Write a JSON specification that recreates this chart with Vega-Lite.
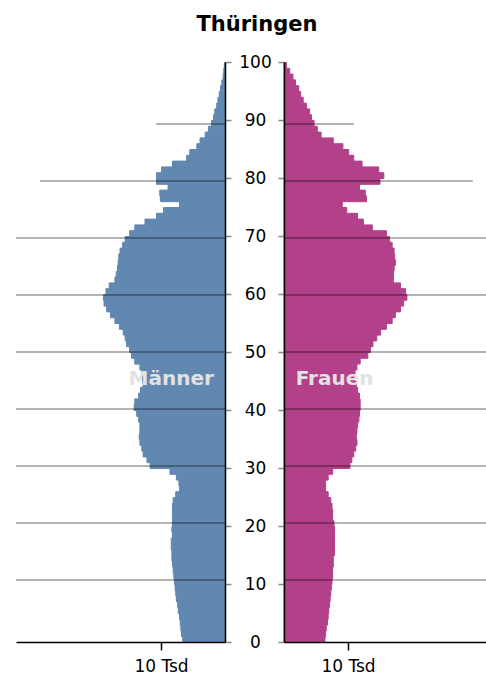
{
  "$schema": "https://vega.github.io/schema/vega-lite/v6.json",
  "background": "white",
  "autosize": {"type": "none"},
  "width": 470,
  "height": 580,
  "padding": {"left": 16, "top": 62, "right": 0, "bottom": 40},
  "title": {"text": "Thüringen", "font": "DejaVu Sans", "fontSize": 21, "fontWeight": "bold", "color": "#000", "anchor": "middle", "frame": "group", "offset": 18, "dx": 6},
  "config": {"view": {"stroke": null}, "axis": {"labelFont": "DejaVu Sans", "labelColor": "#000", "grid": false}},
  "resolve": {"scale": {"x": "independent", "y": "independent"}, "axis": {"x": "independent", "y": "independent"}},
  "datasets": {
    "pop": [
      {"age": 0, "m": 6.6, "f": 6.4}, {"age": 1, "m": 6.8, "f": 6.5}, {"age": 2, "m": 6.9, "f": 6.6}, {"age": 3, "m": 7.0, "f": 6.8}, {"age": 4, "m": 7.1, "f": 6.9},
      {"age": 5, "m": 7.3, "f": 7.0}, {"age": 6, "m": 7.4, "f": 7.1}, {"age": 7, "m": 7.6, "f": 7.2}, {"age": 8, "m": 7.7, "f": 7.3}, {"age": 9, "m": 7.8, "f": 7.4},
      {"age": 10, "m": 7.9, "f": 7.5}, {"age": 11, "m": 8.0, "f": 7.6}, {"age": 12, "m": 8.1, "f": 7.6}, {"age": 13, "m": 8.2, "f": 7.7}, {"age": 14, "m": 8.3, "f": 7.7},
      {"age": 15, "m": 8.3, "f": 7.9}, {"age": 16, "m": 8.4, "f": 7.9}, {"age": 17, "m": 8.4, "f": 7.9}, {"age": 18, "m": 8.2, "f": 7.9}, {"age": 19, "m": 8.3, "f": 7.9},
      {"age": 20, "m": 8.2, "f": 7.8}, {"age": 21, "m": 8.2, "f": 7.6}, {"age": 22, "m": 8.2, "f": 7.6}, {"age": 23, "m": 8.2, "f": 7.5}, {"age": 24, "m": 8.1, "f": 7.3},
      {"age": 25, "m": 7.7, "f": 6.9}, {"age": 26, "m": 7.1, "f": 6.5}, {"age": 27, "m": 7.2, "f": 6.5}, {"age": 28, "m": 7.6, "f": 6.9}, {"age": 29, "m": 8.6, "f": 7.6},
      {"age": 30, "m": 11.7, "f": 10.3}, {"age": 31, "m": 12.2, "f": 10.6}, {"age": 32, "m": 12.8, "f": 10.9}, {"age": 33, "m": 13.0, "f": 11.2}, {"age": 34, "m": 13.3, "f": 11.4},
      {"age": 35, "m": 13.4, "f": 11.3}, {"age": 36, "m": 13.3, "f": 11.4}, {"age": 37, "m": 13.3, "f": 11.5}, {"age": 38, "m": 13.5, "f": 11.7}, {"age": 39, "m": 13.8, "f": 11.8},
      {"age": 40, "m": 14.2, "f": 11.9}, {"age": 41, "m": 14.1, "f": 11.9}, {"age": 42, "m": 13.5, "f": 11.8}, {"age": 43, "m": 13.2, "f": 11.5}, {"age": 44, "m": 12.8, "f": 11.3},
      {"age": 45, "m": 12.9, "f": 11.1}, {"age": 46, "m": 13.0, "f": 11.1}, {"age": 47, "m": 13.3, "f": 11.4}, {"age": 48, "m": 14.1, "f": 11.9}, {"age": 49, "m": 14.6, "f": 13.1},
      {"age": 50, "m": 14.9, "f": 13.5}, {"age": 51, "m": 15.4, "f": 13.9}, {"age": 52, "m": 15.6, "f": 14.5}, {"age": 53, "m": 15.9, "f": 15.1}, {"age": 54, "m": 16.5, "f": 16.0},
      {"age": 55, "m": 17.2, "f": 16.9}, {"age": 56, "m": 17.9, "f": 17.4}, {"age": 57, "m": 18.5, "f": 18.2}, {"age": 58, "m": 18.9, "f": 18.7}, {"age": 59, "m": 19.0, "f": 19.2},
      {"age": 60, "m": 18.6, "f": 19.0}, {"age": 61, "m": 18.1, "f": 18.2}, {"age": 62, "m": 17.2, "f": 17.1}, {"age": 63, "m": 17.0, "f": 17.1}, {"age": 64, "m": 16.8, "f": 17.2},
      {"age": 65, "m": 16.7, "f": 17.4}, {"age": 66, "m": 16.6, "f": 17.3}, {"age": 67, "m": 16.4, "f": 17.2}, {"age": 68, "m": 16.0, "f": 16.9}, {"age": 69, "m": 15.6, "f": 16.5},
      {"age": 70, "m": 14.9, "f": 16.0}, {"age": 71, "m": 14.1, "f": 13.8}, {"age": 72, "m": 12.5, "f": 12.4}, {"age": 73, "m": 10.7, "f": 11.5}, {"age": 74, "m": 9.6, "f": 9.8},
      {"age": 75, "m": 7.1, "f": 9.1}, {"age": 76, "m": 10.1, "f": 12.9}, {"age": 77, "m": 10.2, "f": 12.7}, {"age": 78, "m": 8.9, "f": 11.8}, {"age": 79, "m": 10.7, "f": 15.0},
      {"age": 80, "m": 10.7, "f": 15.6}, {"age": 81, "m": 9.9, "f": 14.8}, {"age": 82, "m": 8.2, "f": 12.2}, {"age": 83, "m": 6.0, "f": 10.9}, {"age": 84, "m": 5.5, "f": 10.1},
      {"age": 85, "m": 4.4, "f": 9.2}, {"age": 86, "m": 3.9, "f": 7.7}, {"age": 87, "m": 3.1, "f": 5.8}, {"age": 88, "m": 2.6, "f": 5.2}, {"age": 89, "m": 2.1, "f": 4.7},
      {"age": 90, "m": 1.8, "f": 4.3}, {"age": 91, "m": 1.6, "f": 4.0}, {"age": 92, "m": 1.3, "f": 3.5}, {"age": 93, "m": 1.1, "f": 3.0}, {"age": 94, "m": 0.9, "f": 2.6},
      {"age": 95, "m": 0.7, "f": 2.3}, {"age": 96, "m": 0.5, "f": 1.8}, {"age": 97, "m": 0.3, "f": 1.4}, {"age": 98, "m": 0.2, "f": 0.9}, {"age": 99, "m": 0.1, "f": 0.4}
    ],
    "grid": [
      {"age": 10, "m": 40, "f": 40}, {"age": 20, "m": 40, "f": 40}, {"age": 30, "m": 40, "f": 40}, {"age": 40, "m": 40, "f": 40},
      {"age": 50, "m": 40, "f": 40}, {"age": 60, "m": 40, "f": 40}, {"age": 70, "m": 40, "f": 40},
      {"age": 80, "m": 28.9, "f": 29.5}, {"age": 90, "m": 10.8, "f": 10.9}
    ]
  },
  "layer": [
    {
      "data": {"name": "pop"},
      "mark": {"type": "bar", "color": "#6088b0", "stroke": "#6088b0", "strokeWidth": 1, "binSpacing": 0},
      "encoding": {
        "y": {"field": "age", "type": "quantitative", "bin": {"step": 1, "extent": [0, 100]},
          "scale": {"domain": [0, 100], "nice": false},
          "axis": {"title": null, "orient": "right", "offset": -261, "zindex": 1, "domain": true, "values": [0, 10, 20, 30, 40, 50, 60, 70, 80, 90, 100], "labelAlign": "center", "labelBaseline": "middle", "labelPadding": 24, "labelFontSize": 17,
            "tickSize": 6, "tickColor": "#888", "tickWidth": 1.5,
            "domainColor": "#000", "domainWidth": 1.5, "labelFlush": false, "labelOverlap": false}},
        "x": {"field": "m", "type": "quantitative", "scale": {"domain": [0, 32.66], "range": [209, 0], "nice": false, "zero": true},
          "axis": {"title": null, "orient": "bottom", "zindex": 1, "domain": true, "values": [10], "labelExpr": "'10 Tsd'", "labelFontSize": 17, "tickSize": 8, "tickColor": "#000", "tickWidth": 1.5, "labelPadding": 8, "domainColor": "#000", "domainWidth": 1.5}}
      }
    },
    {
      "data": {"name": "pop"},
      "mark": {"type": "bar", "color": "#b2418a", "stroke": "#b2418a", "strokeWidth": 1, "binSpacing": 0},
      "encoding": {
        "y": {"field": "age", "type": "quantitative", "bin": {"step": 1, "extent": [0, 100]},
          "scale": {"domain": [0, 100], "nice": false},
          "axis": {"title": null, "orient": "left", "offset": -268, "zindex": 1, "domain": true, "values": [0, 10, 20, 30, 40, 50, 60, 70, 80, 90, 100], "labels": false,
            "tickSize": 6, "tickColor": "#888", "tickWidth": 1.5,
            "domainColor": "#000", "domainWidth": 1.5}},
        "x": {"field": "f", "type": "quantitative", "scale": {"domain": [0, 31.56], "range": [268, 470], "nice": false, "zero": true},
          "axis": {"title": null, "orient": "bottom", "zindex": 1, "domain": true, "values": [10], "labelExpr": "'10 Tsd'", "labelFontSize": 17, "tickSize": 8, "tickColor": "#000", "tickWidth": 1.5, "labelPadding": 8, "domainColor": "#000", "domainWidth": 1.5}}
      }
    },
    {
      "data": {"name": "grid"},
      "mark": {"type": "bar", "orient": "horizontal", "color": "#000", "opacity": 0.4, "height": 1.5, "clip": true},
      "encoding": {
        "y": {"field": "age", "type": "quantitative", "scale": {"domain": [0, 100], "nice": false}, "axis": null},
        "x": {"field": "m", "type": "quantitative", "scale": {"domain": [0, 32.66], "range": [209, 0], "nice": false, "zero": true}, "axis": null}
      }
    },
    {
      "data": {"name": "grid"},
      "mark": {"type": "bar", "orient": "horizontal", "color": "#000", "opacity": 0.4, "height": 1.5, "clip": true},
      "encoding": {
        "y": {"field": "age", "type": "quantitative", "scale": {"domain": [0, 100], "nice": false}, "axis": null},
        "x": {"field": "f", "type": "quantitative", "scale": {"domain": [0, 31.56], "range": [268, 470], "nice": false, "zero": true}, "axis": null}
      }
    },
    {
      "data": {"values": [{"label": "Männer"}]},
      "mark": {"type": "text", "font": "DejaVu Sans", "fontSize": 20, "fontWeight": "bold", "color": "#e2e2e2", "align": "center", "baseline": "middle"},
      "encoding": {
        "text": {"field": "label", "type": "nominal"},
        "x": {"datum": 8.4, "type": "quantitative", "scale": {"domain": [0, 32.66], "range": [209, 0], "nice": false}, "axis": null},
        "y": {"datum": 45.3, "type": "quantitative", "scale": {"domain": [0, 100], "nice": false}, "axis": null}
      }
    },
    {
      "data": {"values": [{"label": "Frauen"}]},
      "mark": {"type": "text", "font": "DejaVu Sans", "fontSize": 20, "fontWeight": "bold", "color": "#e2e2e2", "align": "center", "baseline": "middle"},
      "encoding": {
        "text": {"field": "label", "type": "nominal"},
        "x": {"datum": 7.9, "type": "quantitative", "scale": {"domain": [0, 31.56], "range": [268, 470], "nice": false}, "axis": null},
        "y": {"datum": 45.3, "type": "quantitative", "scale": {"domain": [0, 100], "nice": false}, "axis": null}
      }
    }
  ]
}
